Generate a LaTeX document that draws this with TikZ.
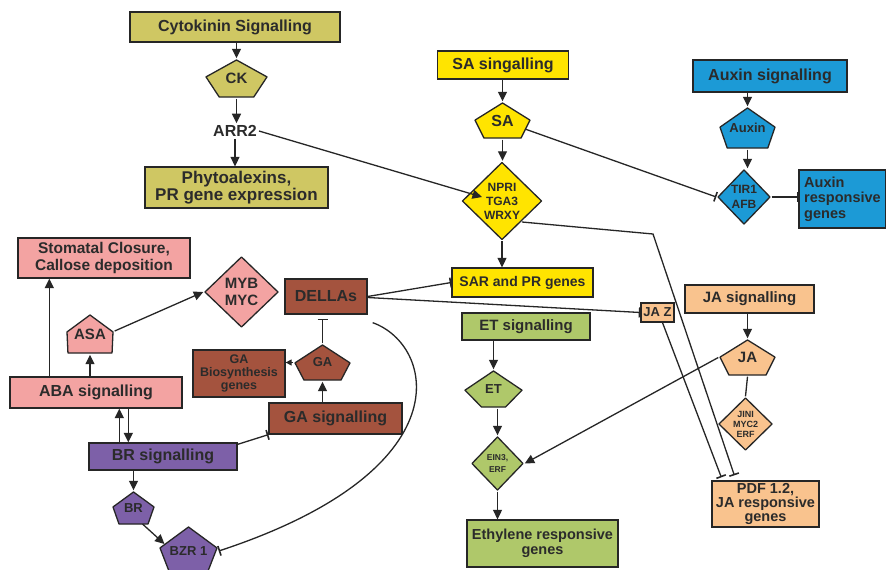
\documentclass[tikz,border=0pt]{standalone}
\usepackage{fontspec}
\setmainfont{Liberation Sans}
\usetikzlibrary{arrows.meta,calc}
\definecolor{ln}{HTML}{262626}
\definecolor{txt}{HTML}{2B2B2B}
\definecolor{cytoc}{HTML}{CFC763}
\definecolor{sac}{HTML}{FFE400}
\definecolor{auxc}{HTML}{1C9AD6}
\definecolor{abac}{HTML}{F3A3A2}
\definecolor{gac}{HTML}{A4533E}
\definecolor{brc}{HTML}{7D60A8}
\definecolor{etc}{HTML}{AFC86A}
\definecolor{jac}{HTML}{F9C38E}
\tikzset{
  fs/.style 2 args={font={\fontsize{#1}{#2}\selectfont\bfseries}},
  every node/.style={text=txt},
  box/.style={draw=ln, line width=1.3pt, fill=#1, inner sep=0pt, align=center},
  pent/.style n args={3}{shape=rectangle, draw=none, inner sep=0pt, align=center,
    path picture={
      \filldraw[fill=#1, draw=ln, line width=1.3pt, line join=round]
        let \p1=(path picture bounding box.south west), \p2=(path picture bounding box.north east) in
        ({(\x1+\x2)/2},{\y2-1.5pt}) -- ({\x2-1.5pt},{\y1+#2*(\y2-\y1)})
        -- ({\x2-#3*(\x2-\x1)},{\y1+1.5pt}) -- ({\x1+#3*(\x2-\x1)},{\y1+1.5pt})
        -- ({\x1+1.5pt},{\y1+#2*(\y2-\y1)}) -- cycle;
    }},
  dia/.style={shape=rectangle, draw=none, inner sep=0pt, align=center,
    path picture={
      \filldraw[fill=#1, draw=ln, line width=1.3pt, line join=round]
        let \p1=(path picture bounding box.south west), \p2=(path picture bounding box.north east) in
        ({(\x1+\x2)/2},{\y2-1.5pt}) -- ({\x2-1.5pt},{(\y1+\y2)/2})
        -- ({(\x1+\x2)/2},{\y1+1.5pt}) -- ({\x1+1.5pt},{(\y1+\y2)/2}) -- cycle;
    }},
  arr/.style={draw=ln, line width=1.3pt, -{Triangle[length=9.5pt,width=9pt]}},
  inh/.style={draw=ln, line width=1.3pt, -{Bar[width=10pt,line width=1.6pt]}},
  plain/.style={draw=ln, line width=1.3pt},
}
\begin{document}
\begin{tikzpicture}[x=1pt,y=-1pt]
\useasboundingbox[fill=white] (0,0) rectangle (886,570);
% Cytokinin
\node[box=cytoc, minimum width=210pt, minimum height=30pt, fs={16}{18}] (cyto) at (235,27) {Cytokinin Signalling};
\node[pent={cytoc}{0.54}{0.23}, minimum width=64pt, minimum height=40pt, fs={15}{17}] (ck) at (236.5,78.5) {CK};
\node[fs={16}{18}, inner sep=2pt] (arr2) at (235,131) {ARR2};
\node[box=cytoc, minimum width=183pt, minimum height=41pt, fs={17}{17}] (phyto) at (236.5,187.5) {Phytoalexins,\\PR gene expression};
% SA
\node[box=sac, minimum width=131pt, minimum height=28pt, fs={16}{18}] (sasig) at (503,65) {SA singalling};
\node[pent={sac}{0.51}{0.18}, minimum width=58pt, minimum height=38pt, fs={16}{18}] (sa) at (502.5,120.5) {SA};
\node[dia=sac, minimum width=82pt, minimum height=80pt, fs={12}{14}] (npr) at (502,201) {NPRI\\TGA3\\WRXY};
\node[box=sac, minimum width=141pt, minimum height=29pt, fs={14}{16}] (sar) at (522.5,282.5) {SAR and PR genes};
% Auxin
\node[box=auxc, minimum width=154pt, minimum height=32pt, fs={16}{18}] (auxsig) at (770,76) {Auxin signalling};
\node[pent={auxc}{0.52}{0.15}, minimum width=58pt, minimum height=43pt, fs={13}{15}] (aux) at (747.5,128) {Auxin};
\node[dia=auxc, minimum width=55pt, minimum height=57pt, fs={12}{15}] (tir) at (744,197) {TIR1\\AFB};
\node[box=auxc, minimum width=87pt, minimum height=58pt, fs={14.5}{15.5}, align=left] (auxresp) at (842.5,199) {Auxin\\responsive\\genes};
% ABA
\node[box=abac, minimum width=172pt, minimum height=40pt, fs={15.5}{17}] (stom) at (104,258) {Stomatal Closure,\\Callose deposition};
\node[dia=abac, minimum width=76pt, minimum height=73pt, fs={15}{17}] (myb) at (241.5,292) {MYB\\MYC};
\node[pent={abac}{0.55}{0.05}, minimum width=49pt, minimum height=41pt, fs={15}{17}] (asa) at (90,334) {ASA};
\node[box=abac, minimum width=172pt, minimum height=31pt, fs={16}{18}] (aba) at (96,392.5) {ABA signalling};
% GA
\node[box=gac, minimum width=82pt, minimum height=35pt, fs={16}{18}] (della) at (326,296.5) {DELLAs};
\node[pent={gac}{0.49}{0.18}, minimum width=58pt, minimum height=38pt, fs={13}{15}] (ga) at (322.5,362.5) {GA};
\node[box=gac, minimum width=92pt, minimum height=47pt, fs={12.5}{13}] (gabio) at (239,373.5) {GA\\Biosynthesis\\genes};
\node[box=gac, minimum width=133pt, minimum height=31pt, fs={16}{18}] (gasig) at (335.5,418.5) {GA signalling};
% BR
\node[box=brc, minimum width=148pt, minimum height=27pt, fs={16}{18}] (brsig) at (163,456.5) {BR signalling};
\node[pent={brc}{0.53}{0.17}, minimum width=44pt, minimum height=35pt, fs={13}{15}] (br) at (133.5,508) {BR};
\node[pent={brc}{0.56}{0.2}, minimum width=60pt, minimum height=51pt, fs={13}{15}] (bzr) at (188.5,551) {BZR 1};
% ET
\node[box=etc, minimum width=128pt, minimum height=27pt, fs={15}{17}] (etsig) at (526,326.5) {ET signalling};
\node[pent={etc}{0.47}{0.3}, minimum width=60pt, minimum height=39pt, fs={13}{15}] (et) at (493.5,389) {ET};
\node[dia=etc, minimum width=54pt, minimum height=56pt, fs={8.5}{12}] (ein) at (497.5,463.5) {EIN3,\\ERF};
\node[box=etc, minimum width=151pt, minimum height=47pt, fs={14.5}{15}] (ethyl) at (542.5,543.5) {Ethylene responsive\\genes};
% JA
\node[box=jac, minimum width=129pt, minimum height=28pt, fs={15}{17}] (jasig) at (749.5,299) {JA signalling};
\node[pent={jac}{0.51}{0.18}, minimum width=58pt, minimum height=38pt, fs={15}{17}] (ja) at (747.5,357.5) {JA};
\node[dia=jac, minimum width=56pt, minimum height=55pt, fs={9}{10}] (jini) at (745.5,424) {JINI\\MYC2\\ERF};
\node[box=jac, minimum width=33pt, minimum height=19pt, fs={13}{15}] (jaz) at (657.5,312.5) {JA Z};
\node[box=jac, minimum width=107pt, minimum height=46pt, fs={14.5}{14}] (pdf) at (765.5,504) {PDF 1.2,\\JA responsive\\genes};
\coordinate (bend1) at (653,234);
% connectors
\draw[arr] (ck.north |- cyto.south) -- (ck.north);
\draw[arr] (ck.south) -- (ck.south |- arr2.north);
\draw[arr] (arr2.south) -- (arr2.south |- phyto.north);
\draw[arr] (arr2.east) -- ($(npr.center)+(-20,-4)$);
\draw[arr] (sa.north |- sasig.south) -- (sa.north);
\draw[arr] (sa.south) -- (sa.south |- npr.north);
\draw[arr] (npr.south) -- (npr.south |- sar.north);
\draw[inh] ($(sa.center)+(22.5,8.5)$) -- (tir.west);
\draw[inh] ($(npr.center)+(20,21)$) -- (bend1) -- ($(pdf.north west)+(23,-5)$);
\draw[arr] (aux.north |- auxsig.south) -- (aux.north);
\draw[arr] (aux.south) -- (aux.south |- tir.north);
\draw[inh] (tir.east) -- (tir.east -| auxresp.west);
\draw[arr] ($(aba.north west)+(40,0)$) -- ($(stom.south west)+(32,0)$);
\draw[arr] (asa.south |- aba.north) -- (asa.south);
\draw[arr] ($(asa.east)+(0,-3)$) -- (myb.west);
\draw[arr] ($(brsig.north west)+(31,0)$) -- ($(aba.south west)+(110,0)$);
\draw[arr] ($(aba.south west)+(119,0)$) -- ($(brsig.north west)+(40,0)$);
\draw[arr] (br.north |- brsig.south) -- (br.north);
\draw[arr] ($(br.center)+(9,16)$) -- ($(bzr.center)+(-24,-7)$);
\draw[inh] ($(brsig.north east)+(0,2)$) -- (gasig.south west);
\draw[arr] (ga.south |- gasig.north) -- (ga.south);
\draw[inh, shorten >=4pt] (ga.north) -- (ga.north |- della.south);
\draw[draw=ln, line width=1.3pt, -{Triangle[length=6pt,width=6pt]}] (ga.west) -- (ga.west -| gabio.east);
\draw[inh] (della.east) -- (sar.west);
\draw[inh] ($(della.east)+(0,1)$) -- (jaz.west);
\draw[inh] ($(della.south east)+(5,8)$) .. controls (435,345) and (465,470) .. (bzr.east);
\draw[arr] (et.north |- etsig.south) -- (et.north);
\draw[arr] (ein.north |- et.south) -- (ein.north);
\draw[arr] (ein.south) -- (ein.south |- ethyl.north);
\draw[arr] (ja.north |- jasig.south) -- (ja.north);
\draw[plain] (ja.south) -- (jini.north);
\draw[arr] (ja.west) -- (ein.east);
\draw[inh] ($(jaz.south)+(5,0)$) -- ($(pdf.north west)+(10,-3)$);
\end{tikzpicture}
\end{document}
